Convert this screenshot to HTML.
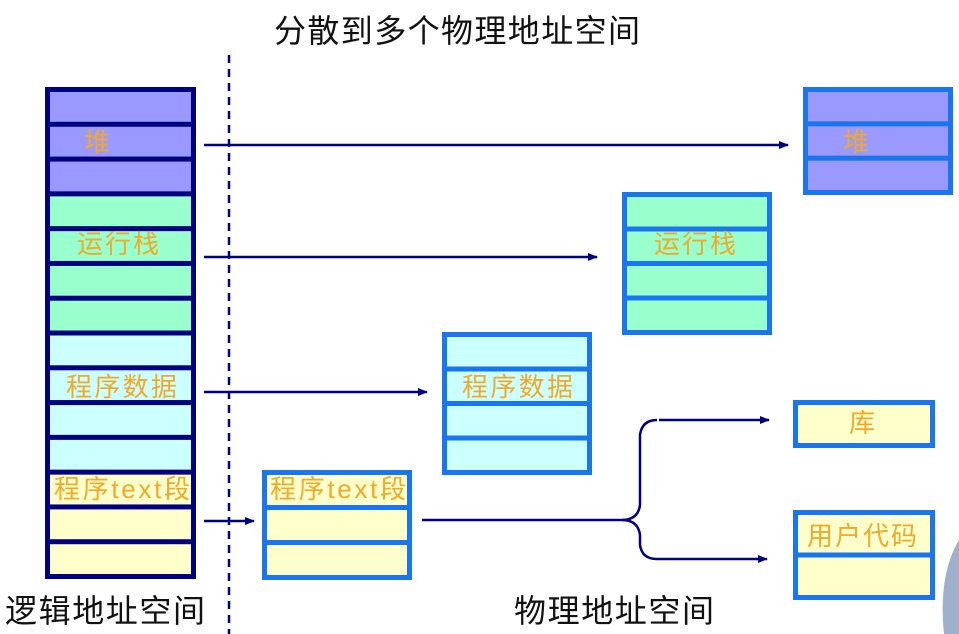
<!DOCTYPE html>
<html><head><meta charset="utf-8"><style>
html,body{margin:0;padding:0;background:#fff;width:959px;height:634px;overflow:hidden}
svg text{font-family:"Liberation Sans","Noto Sans CJK SC",sans-serif}
.l{fill:#f0a928;font-size:26px}
.t{fill:#111;font-size:32px}
</style></head><body>
<svg width="959" height="634" viewBox="0 0 959 634" xmlns="http://www.w3.org/2000/svg">
<defs><marker id="a" markerWidth="10" markerHeight="8" refX="9" refY="4" orient="auto" markerUnits="userSpaceOnUse"><path d="M0,0 L10,4 L0,8 z" fill="#000080"/></marker></defs>
<text class="t" x="274" y="42" textLength="366">分散到多个物理地址空间</text>
<line x1="229" y1="55" x2="229" y2="634" stroke="#000080" stroke-width="2.5" stroke-dasharray="8,6"/>
<rect x="45" y="87" width="151" height="492" fill="#000080"/>
<g id="left"></g>
<g id="right"></g>
<text class="l" x="84" y="151">堆</text>
<text class="l" x="77" y="253" textLength="82">运行栈</text>
<text class="l" x="66" y="396" textLength="111">程序数据</text>
<text class="l" x="54" y="498" textLength="136">程序text段</text>
<text class="l" x="843" y="151">堆</text>
<text class="l" x="654" y="253" textLength="82">运行栈</text>
<text class="l" x="462" y="396" textLength="111">程序数据</text>
<text class="l" x="270" y="498" textLength="136">程序text段</text>
<text class="l" x="849" y="432">库</text>
<text class="l" x="807" y="545" textLength="110">用户代码</text>
<g stroke="#000080" stroke-width="2.5" fill="none">
<line x1="204" y1="145" x2="788" y2="145" marker-end="url(#a)"/>
<line x1="204" y1="257" x2="597" y2="257" marker-end="url(#a)"/>
<line x1="204" y1="392" x2="427" y2="392" marker-end="url(#a)"/>
<line x1="204" y1="521" x2="254" y2="521" marker-end="url(#a)"/>
<path d="M422,520 L622,520 Q638,520 640,505 L640,435 Q642,420 657,420"/>
<line x1="659" y1="420" x2="769" y2="420" marker-end="url(#a)"/>
<path d="M622,520 Q638,520 640,535 L640,545 Q642,559 657,559 L767,559" marker-end="url(#a)"/>
</g>
<text class="t" x="5" y="622" textLength="200">逻辑地址空间</text>
<text class="t" x="514" y="622" textLength="200">物理地址空间</text>
<path d="M959,540 Q938,575 944,634 L959,634 z" fill="#9fb0cc"/>
</svg>
<script>
var NS="http://www.w3.org/2000/svg";
function cell(g,x,y,w,h,f){var r=document.createElementNS(NS,"rect");r.setAttribute("x",x);r.setAttribute("y",y);r.setAttribute("width",w);r.setAttribute("height",h);r.setAttribute("fill",f);g.appendChild(r);}
var L=document.getElementById("left");
var cols=["#9999ff","#9999ff","#9999ff","#99ffcc","#99ffcc","#99ffcc","#99ffcc","#ccffff","#ccffff","#ccffff","#ccffff","#ffffcc","#ffffcc","#ffffcc"];
var p=(492-5)/14;
for(var i=0;i<14;i++)cell(L,50,87+5+i*p,141,p-5,cols[i]);
var R=document.getElementById("right");
function box(x,y,w,h,n,f){cell(R,x,y,w,h,"#1a75f0");var q=(h-5)/n;for(var i=0;i<n;i++)cell(R,x+5,y+5+i*q,w-10,q-5,f);}
box(803,87,150,108,3,"#9999ff");
box(622,192,150,143,4,"#99ffcc");
box(442,332,150,143,4,"#ccffff");
box(262,470,150,110,3,"#ffffcc");
box(793,400,142,48,1,"#ffffcc");
box(793,510,142,90,2,"#ffffcc");
</script>
</body></html>
